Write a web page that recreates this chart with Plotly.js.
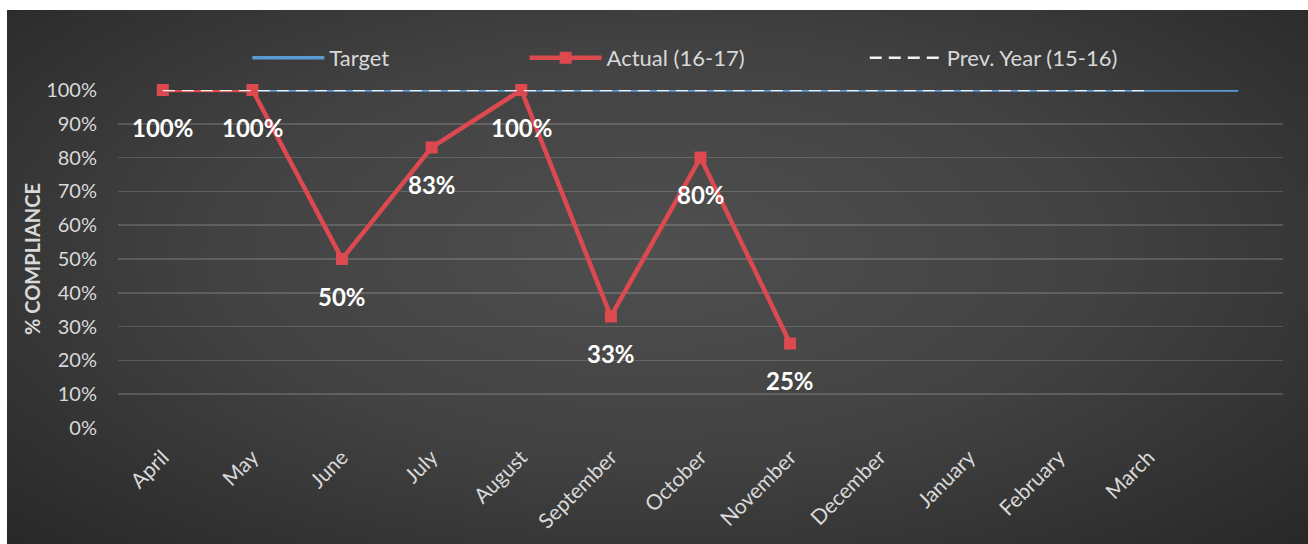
<!DOCTYPE html>
<html>
<head>
<meta charset="utf-8">
<script src="https://cdn.plot.ly/plotly-3.0.1.min.js"></script>
<style>
  html, body { margin: 0; padding: 0; background: #ffffff; width: 1308px; height: 544px; overflow: hidden; }
  #chart {
    position: absolute; left: 7px; top: 10px; width: 1301px; height: 534px;
    background: radial-gradient(ellipse 75% 85% at 50% 45%, #4f4f4f 0%, #424242 45%, #2c2c2c 85%, #242424 100%);
  }
</style>
</head>
<body>
<div id="chart"></div>
<script>
// ---- data ----
const months = ["April", "May", "June", "July", "August", "September", "October", "November", "December", "January", "February", "March", " "];
const targetValues = [1, 1, 1, 1, 1, 1, 1, 1, 1, 1, 1, 1, 1];
const actualValues = [1.00, 1.00, 0.50, 0.83, 1.00, 0.33, 0.80, 0.25];
const prevYearValues = [1, 1, 1, 1, 1, 1, 1, 1, 1, 1, 1, 1];
const yTickVals = [0, 0.1, 0.2, 0.3, 0.4, 0.5, 0.6, 0.7, 0.8, 0.9, 1.0];

const FONT = "Lato, 'Open Sans', sans-serif";
const TXT = "#d9d9d9";

const traces = [
  {
    name: "Target", x: months, y: targetValues, type: "scatter", mode: "lines",
    line: { color: "#5b9bd5", width: 3.5 }, legend: "legend", cliponaxis: false, hoverinfo: "skip"
  },
  {
    name: "Actual (16-17)", x: months.slice(0, actualValues.length), y: actualValues,
    type: "scatter", mode: "lines+markers",
    line: { color: "#dc4a50", width: 4.5 },
    marker: { symbol: "square", size: 12, color: "#dc4a50" },
    legend: "legend2", cliponaxis: false
  },
  {
    name: "Prev. Year (15-16)", x: months.slice(0, prevYearValues.length), y: prevYearValues,
    type: "scatter", mode: "lines",
    line: { color: "#f2f2f2", width: 2.5, dash: "12px,7px" },
    legend: "legend3", cliponaxis: false, hoverinfo: "skip"
  }
];

const annotations = actualValues.map((v, i) => ({
  x: months[i], y: v, xref: "x", yref: "y",
  text: Math.round(v * 100) + "%", showarrow: false, yshift: -37,
  font: { family: FONT, size: 24, color: "#ffffff", weight: "bold" }
}));

const legendBase = {
  orientation: "h", yanchor: "middle", y: 1.095, xanchor: "left",
  bgcolor: "rgba(0,0,0,0)", font: { family: FONT, size: 22, color: TXT },
  itemwidth: 72
};

const layout = {
  width: 1301, height: 534,
  paper_bgcolor: "rgba(0,0,0,0)", plot_bgcolor: "rgba(0,0,0,0)",
  margin: { l: 111, r: 25, t: 80, b: 116 },
  font: { family: FONT, color: TXT },
  showlegend: true,
  legend: Object.assign({}, legendBase, { x: 0.111 }),
  legend2: Object.assign({}, legendBase, { x: 0.349 }),
  legend3: Object.assign({}, legendBase, { x: 0.641 }),
  xaxis: {
    type: "category", categoryorder: "array", categoryarray: months,
    range: [-0.5, months.length - 0.5],
    showgrid: false, zeroline: false, showline: false,
    tickangle: -45, tickfont: { family: FONT, size: 21, color: TXT },
    ticks: "", ticklabelstandoff: 12
  },
  yaxis: {
    range: [0, 1], tickvals: yTickVals, tickformat: ".0%",
    showgrid: true, gridcolor: "rgba(255,255,255,0.16)", gridwidth: 1.5,
    zeroline: false, showline: false, ticks: "",
    ticklabelstandoff: 20,
    tickfont: { family: FONT, size: 20, color: TXT },
    title: { text: "% COMPLIANCE", font: { family: FONT, size: 20, color: TXT, weight: "bold" }, standoff: 0 }
  },
  annotations: annotations
};

Plotly.newPlot("chart", traces, layout, { displayModeBar: false, staticPlot: true });
</script>
</body>
</html>
